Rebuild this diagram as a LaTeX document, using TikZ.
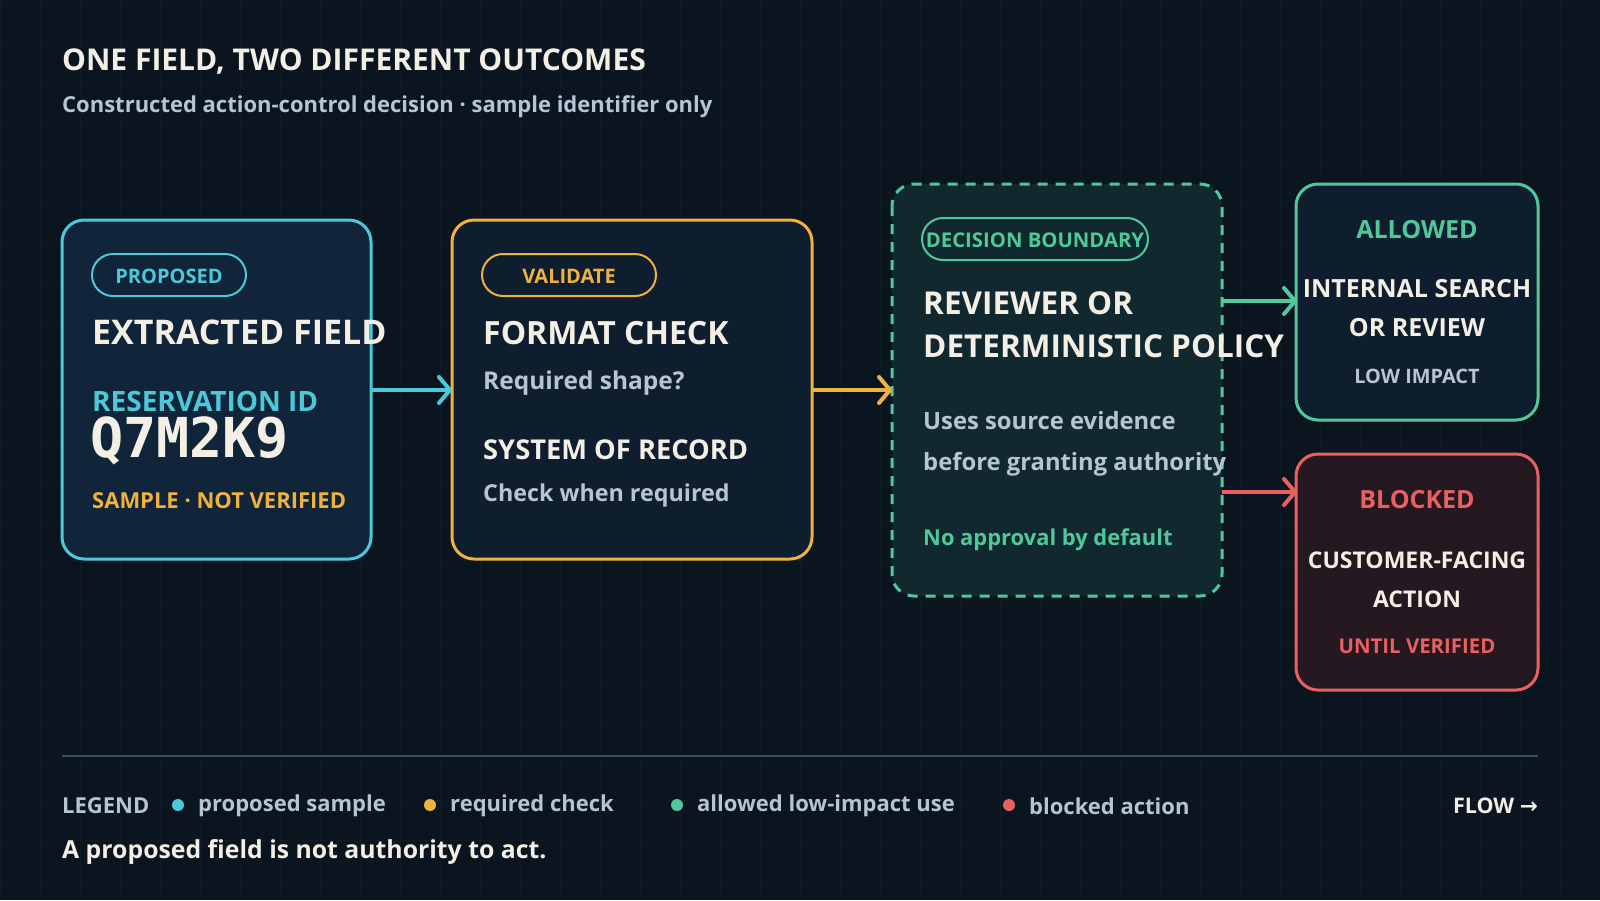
\documentclass[tikz,border=0pt]{standalone}
\usepackage{fontspec}
\setmainfont{Open Sans}
\newfontfamily\monof{DejaVu Sans Mono}
\usetikzlibrary{arrows.meta}
\definecolor{bg}{HTML}{0A1520}
\definecolor{cy}{HTML}{4CC9D9}
\definecolor{og}{HTML}{F0B23C}
\definecolor{gn}{HTML}{4FC99A}
\definecolor{rd}{HTML}{E86060}
\definecolor{tx}{HTML}{F4EFE4}
\definecolor{gy}{HTML}{B8C4D4}
\definecolor{f1}{HTML}{10243A}
\definecolor{f2}{HTML}{0E1E2E}
\definecolor{f3}{HTML}{12282F}
\definecolor{f5}{HTML}{261820}
\definecolor{ln}{HTML}{3A5068}
\begin{document}
\begin{tikzpicture}[x=1pt,y=-1pt,
  box/.style={rounded corners=22pt,line width=3pt},
  pill/.style={rounded corners=21pt,line width=2pt},
  t/.style={inner sep=0pt,anchor=west,font=\bfseries\fontsize{#1}{#1}\selectfont},
  c/.style={inner sep=0pt,anchor=center,font=\bfseries\fontsize{#1}{#1}\selectfont},
  arr/.style={line width=4pt,-{Straight Barb[length=11pt,width=26pt,line width=4pt,round]}}]
\useasboundingbox (0,0) rectangle (1600,900);
\fill[bg] (0,0) rectangle (1600,900);
\foreach \i in {0,40,...,1600} \draw[white,opacity=0.025] (\i,0) -- (\i,900);
\foreach \i in {0,40,...,900} \draw[white,opacity=0.025] (0,\i) -- (1600,\i);
\node[t=30,text=tx] (title) at (62,62) {ONE FIELD, TWO DIFFERENT OUTCOMES};
\node[t=22,text=gy] (sub) at (62,107) {Constructed action-control decision · sample identifier only};
% box1
\draw[box,cy,fill=f1] (62,220) rectangle (371,559);
\coordinate (b1e) at (371,390);
\draw[pill,cy] (92,254) rectangle (246,296);
\node[c=20,text=cy] (p1) at (169,276) {PROPOSED};
\node[t=34,text=tx] (n1) at (92,332) {EXTRACTED FIELD};
\node[t=28,text=cy] (n2) at (92,401) {RESERVATION ID};
\node[t=50,text=tx,font=\monof\bfseries\fontsize{55}{55}\selectfont] (n3) at (90,441) {Q7M2K9};
\node[t=22,text=og] (n4) at (92,501) {SAMPLE · NOT VERIFIED};
% box2
\draw[box,og,fill=f2] (452,220) rectangle (812,559);
\coordinate (b2w) at (452,390);
\coordinate (b2e) at (812,390);
\draw[pill,og] (482,254) rectangle (656,296);
\node[c=20,text=og] (p2) at (569,276) {VALIDATE};
\node[t=32,text=tx] (m1) at (483,333) {FORMAT CHECK};
\node[t=24.5,text=gy] (m2) at (483,383) {Required shape?};
\node[t=27.3,text=tx] (m3) at (483,450) {SYSTEM OF RECORD};
\node[t=23.3,text=gy] (m4) at (483,495) {Check when required};
% box3
\draw[box,gn,fill=f3,dash pattern=on 10pt off 8pt] (892,184) rectangle (1222,596);
\coordinate (b3w) at (892,390);
\coordinate (b3a) at (1222,301);
\coordinate (b3b) at (1222,492);
\draw[pill,gn] (922,218) rectangle (1148,260);
\node[c=20.3,text=gn] (p3) at (1035,240) {DECISION BOUNDARY};
\node[t=31.5,text=tx] (d1) at (923,303) {REVIEWER OR};
\node[t=31.5,text=tx] (d2) at (923,346) {DETERMINISTIC POLICY};
\node[t=23.8,text=gy] (d3) at (923,421) {Uses source evidence};
\node[t=23.8,text=gy] (d4) at (923,464) {before granting authority};
\node[t=21.9,text=gn] (d5) at (923,540) {No approval by default};
% box4
\draw[box,gn,fill=f2] (1296,184) rectangle (1538,420);
\coordinate (b4w) at (1297,301);
\node[c=25,text=gn] (a1) at (1417,230) {ALLOWED};
\node[c=25,text=tx] (a2) at (1417,289) {INTERNAL SEARCH};
\node[c=25,text=tx] (a3) at (1417,328) {OR REVIEW};
\node[c=19.9,text=gy] (a4) at (1417,376) {LOW IMPACT};
% box5
\draw[box,rd,fill=f5] (1296,454) rectangle (1538,690);
\coordinate (b5w) at (1297,492);
\node[c=25,text=rd] (k1) at (1417,500) {BLOCKED};
\node[c=23,text=tx] (k2) at (1417,560) {CUSTOMER-FACING};
\node[c=23,text=tx] (k3) at (1417,599) {ACTION};
\node[c=20.4,text=rd] (k4) at (1417,646) {UNTIL VERIFIED};
% arrows
\draw[arr,cy] (b1e) -- (b2w);
\draw[arr,og] (b2e) -- (b3w);
\draw[arr,gn] (b3a) -- (b4w);
\draw[arr,rd] (b3b) -- (b5w);
% legend
\draw[ln,line width=1.5pt] (62,756) -- (1538,756);
\node[t=22,text=gy] (lg) at (62,806) {LEGEND};
\fill[cy] (178,805) circle (6pt);
\node[t=22,text=gy] (l1) at (198,806) {proposed sample};
\fill[og] (430,805) circle (6pt);
\node[t=22,text=gy] (l2) at (450,806) {required check};
\fill[gn] (677,805) circle (6pt);
\node[t=22,text=gy] (l3) at (697,806) {allowed low-impact use};
\fill[rd] (1009,805) circle (6pt);
\node[t=22,text=gy] (l4) at (1029,806) {blocked action};
\node[inner sep=0pt,anchor=east,text=tx,font=\bfseries\fontsize{21.5}{21.5}\selectfont] (fl) at (1538,806) {FLOW \fontspec{DejaVu Sans}\bfseries→};
\node[t=24.8,text=tx] (ft) at (62,852) {A proposed field is not authority to act.};
\end{tikzpicture}
\end{document}
